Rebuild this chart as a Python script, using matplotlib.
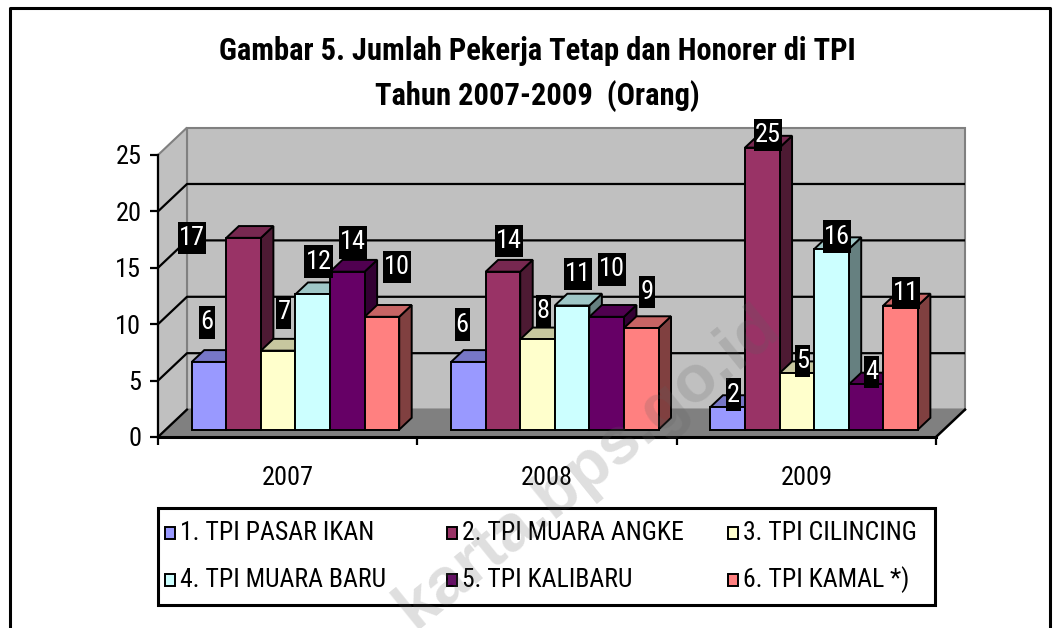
import matplotlib
matplotlib.use("Agg")
import matplotlib.pyplot as plt
from matplotlib.patches import Polygon, Rectangle
from matplotlib.path import Path
import numpy as np

# ---------------- data ----------------
years = ["2007", "2008", "2009"]
series_names = ["1. TPI PASAR IKAN", "2. TPI MUARA ANGKE", "3. TPI CILINCING",
                "4. TPI MUARA BARU", "5. TPI KALIBARU", "6. TPI KAMAL *)"]
pasar_ikan = [6, 6, 2]
muara_angke = [17, 14, 25]
cilincing = [7, 8, 5]
muara_baru = [12, 11, 16]
kalibaru = [14, 10, 4]
kamal = [10, 9, 11]
yticks = [0, 5, 10, 15, 20, 25]
title_text = "Gambar 5. Jumlah Pekerja Tetap dan Honorer di TPI\nTahun 2007-2009  (Orang)"
watermark = "karta.bps.go.id"

values = [pasar_ikan, muara_angke, cilincing, muara_baru, kalibaru, kamal]

# ---------------- style ----------------
colors = ["#9999FF", "#993366", "#FFFFCC", "#CCFFFF", "#660066", "#FF8080"]
# manual label nudges of the original (category units / value units)
label_dx = [[-0.03, -0.046, 0], [-0.22, 0, 0], [0, 0, 0],
            [0, 0, 0], [0, 0, 0], [0.035, 0, 0]]
label_dy = [[2.4, 2.2, 0], [-1.1, 1.6, 0], [2.3, 1.4, 0],
            [1.8, 1.7, 0], [1.5, 3.1, 0], [3.3, 2.1, 0]]

FONT = ["Roboto Condensed", "DejaVu Sans"]
plt.rcParams["font.family"] = FONT

W, H = 1054, 628
fig = plt.figure(figsize=(W / 100, H / 100), dpi=100)

# pixel geometry of the plotting frame
px_x0, px_x3 = 158.0, 936.0       # front x-axis: category 0 .. 3
px_y0, px_y25 = 437.0, 155.0      # front y-axis: 0 .. 25
sx = (px_x3 - px_x0) / 3.0
sy = (px_y0 - px_y25) / 25.0
xmin, xmax = -0.55, 3.45
ymin, ymax = -4.0, 30.0
left = px_x0 + xmin * sx
right = px_x0 + xmax * sx
bot = px_y0 - ymin * sy
top = px_y0 - ymax * sy
ax = fig.add_axes([left / W, 1 - bot / H, (right - left) / W, (bot - top) / H])
ax.set_xlim(xmin, xmax)
ax.set_ylim(ymin, ymax)
ax.set_facecolor("none")

DX = 29.0 / sx      # depth offset (category units)
DY = 2.43           # depth offset (value units)
ymax_axis = yticks[-1]
ncat = len(years)

# walls and floor
ax.add_patch(Polygon([(DX, DY), (ncat + DX, DY), (ncat + DX, ymax_axis + DY), (DX, ymax_axis + DY)],
                     closed=True, fc="#C0C0C0", ec="#808080", lw=1.5, zorder=1))
ax.add_patch(Polygon([(0, 0), (DX, DY), (DX, ymax_axis + DY), (0, ymax_axis)],
                     closed=True, fc="#C0C0C0", ec="#808080", lw=1.5, zorder=1))
ax.add_patch(Polygon([(0, 0), (ncat, 0), (ncat + DX, DY), (DX, DY)],
                     closed=True, fc="#808080", ec="none", zorder=2))
for v in yticks[:-1]:
    ax.plot([0, DX, ncat + DX], [v, v + DY, v + DY], color="black" if v > 0 else "#808080",
            lw=1.6, zorder=3, solid_capstyle="butt")
ax.plot([0, DX], [0, DY], color="black", lw=1.6, zorder=3)
ax.plot([ncat, ncat + DX], [0, DY], color="black", lw=1.8, zorder=3)

# axes spines / ticks through the library
for s in ["top", "right"]:
    ax.spines[s].set_visible(False)
ax.spines["left"].set_position(("data", 0))
ax.spines["left"].set_bounds(0, ymax_axis)
ax.spines["left"].set_linewidth(1.6)
ax.spines["bottom"].set_position(("data", 0))
ax.spines["bottom"].set_bounds(0, ncat)
ax.spines["bottom"].set_linewidth(2.2)
ax.spines["left"].set_zorder(4)
ax.spines["bottom"].set_zorder(4)
ax.set_yticks(yticks)
ax.set_yticklabels([str(t) for t in yticks])
ax.set_xticks(range(ncat + 1))
ax.set_xticklabels([])
ax.tick_params(axis="y", direction="out", length=6, width=1.6, pad=6, labelsize=19)
ax.tick_params(axis="x", direction="out", length=6, width=1.6)
ax.set_xticks([j + 0.5 for j in range(ncat)], minor=True)
ax.set_xticklabels(years, minor=True)
ax.tick_params(axis="x", which="minor", length=0, pad=21, labelsize=19)

# bars
nser = len(values)
gap = 0.1
w = (1 - 2 * gap) / nser
d0, d1 = 0.27, 0.70
dd = d1 - d0


def shade(c, f):
    r, g, b = matplotlib.colors.to_rgb(c)
    return (r * f, g * f, b * f)


def label_box(x0, y0, width, height, mutation_size):
    px_ = 0.04 * mutation_size
    py_ = 0.16 * mutation_size
    x0, y0 = x0 - px_, y0 - py_
    x1, y1 = x0 + width + 2 * px_, y0 + height + 2 * py_
    return Path([(x0, y0), (x1, y0), (x1, y1), (x0, y1), (x0, y0)], closed=True)


for i, vals in enumerate(values):
    xs = np.arange(ncat) + gap + i * w + d0 * DX
    base = d0 * DY
    zf = 10 + 3 * i
    ax.bar(xs, vals, width=w, bottom=base, align="edge", color=colors[i],
           edgecolor="black", linewidth=1.4, zorder=zf + 2)
    for j, v in enumerate(vals):
        x0 = xs[j]
        topv = base + v
        ax.add_patch(Polygon([(x0, topv), (x0 + w, topv), (x0 + w + dd * DX, topv + dd * DY),
                              (x0 + dd * DX, topv + dd * DY)], closed=True,
                             fc=shade(colors[i], 0.78), ec="black", lw=1.4, zorder=zf + 1))
        ax.add_patch(Polygon([(x0 + w, base), (x0 + w + dd * DX, base + dd * DY),
                              (x0 + w + dd * DX, topv + dd * DY), (x0 + w, topv)], closed=True,
                             fc=shade(colors[i], 0.5), ec="black", lw=1.4, zorder=zf))
        ax.text(x0 + w / 2 + 0.022 + label_dx[i][j], topv + 1.1 + label_dy[i][j], str(v),
                ha="center", va="center", color="white", fontsize=19, zorder=50,
                bbox=dict(boxstyle=label_box, fc="black", ec="none"))

# title
fig.text(537 / W, 1 - 74 / H, title_text, ha="center", va="center", fontsize=22,
         fontweight="bold", linespacing=1.58)

# legend (row-major like the original)
lg_l, lg_r, lg_t, lg_b = 158, 935, 508, 605
fig.add_artist(Rectangle((lg_l / W, 1 - lg_b / H), (lg_r - lg_l) / W, (lg_b - lg_t) / H,
                         transform=fig.transFigure, fc="white", ec="black", lw=2.2, zorder=5))
col_x = [165, 447, 728]
row_y = [533, 580]
for k, name in enumerate(series_names):
    r, c = divmod(k, 3)
    mx, my = col_x[c], row_y[r]
    fig.add_artist(Rectangle((mx / W, 1 - (my + 6) / H), 10 / W, 12 / H, transform=fig.transFigure,
                             fc=colors[k], ec="black", lw=1.4, zorder=6))
    fig.text((mx + 15) / W, 1 - my / H, name, ha="left", va="center", fontsize=18.5, zorder=6)

# outer frame
fig.add_artist(plt.Line2D([10 / W, 10 / W, 1050 / W, 1050 / W], [0, 1 - 8 / H, 1 - 8 / H, 0],
                          transform=fig.transFigure, color="black", lw=2.2))

# watermark
fig.text(588 / W, 1 - 468 / H, watermark, ha="center", va="center", rotation=39,
         fontsize=48, fontweight="bold", color="#606060", alpha=0.2,
         family=["Liberation Sans", "DejaVu Sans"], zorder=100)

fig.savefig("out.png", dpi=100)
